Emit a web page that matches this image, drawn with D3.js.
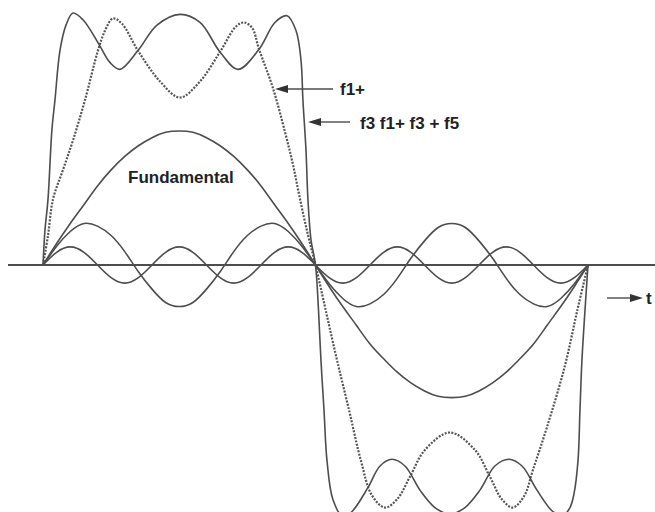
<!DOCTYPE html>
<html>
<head>
<meta charset="utf-8">
<script src="https://cdn.jsdelivr.net/npm/d3@7"></script>
<style>
  html, body { margin: 0; padding: 0; background: #fff; }
  svg { display: block; }
  text { font-family: "Liberation Sans", Arial, sans-serif; font-weight: bold; fill: #222; }
</style>
</head>
<body>
<svg id="chart" width="655" height="512"></svg>
<script>
// Phase angle (degrees) of the samples used for the single harmonics
const harmonicAngles = [0,9,18,27,36,45,54,63,72,81,90,99,108,117,126,135,144,153,162,171,180,
  189,198,207,216,225,234,243,252,261,270,279,288,297,306,315,324,333,342,351,360];

// Fundamental (f1), third harmonic (f3), fifth harmonic (f5), relative to f1 peak
const fundamental = [0,0.16,0.31,0.45,0.59,0.71,0.81,0.89,0.95,0.99,1.0,0.99,0.95,0.89,0.81,0.71,0.59,0.45,0.31,0.16,0,
  -0.16,-0.31,-0.45,-0.59,-0.70,-0.80,-0.88,-0.94,-0.98,-0.99,-0.98,-0.94,-0.88,-0.80,-0.70,-0.59,-0.45,-0.31,-0.16,0];
const third = [0,0.14,0.25,0.31,0.29,0.22,0.10,-0.05,-0.18,-0.28,-0.31,-0.28,-0.18,-0.05,0.10,0.22,0.29,0.31,0.25,0.14,0,
  -0.14,-0.25,-0.31,-0.29,-0.22,-0.10,0.05,0.18,0.28,0.31,0.28,0.18,0.05,-0.10,-0.22,-0.29,-0.31,-0.25,-0.14,0];
const fifth = [0,0.095,0.135,0.095,0,-0.095,-0.135,-0.095,0,0.095,0.135,0.095,0,-0.095,-0.135,-0.095,0,0.095,0.135,0.095,0,
  -0.095,-0.135,-0.095,0,0.095,0.135,0.095,0,-0.095,-0.135,-0.095,0,0.095,0.135,0.095,0,-0.095,-0.135,-0.095,0];

// Partial sum f1 + f3 (dotted)
const sum13Angles = [0,3.3,6.6,13.2,19.8,27.7,36.3,41,46.2,52.2,62.7,77.3,90.5,103.7,116.9,127.5,132.8,138.1,142.7,151.9,159.9,165.1,169.8,175.1,180,
  187,194.2,202.1,210,217.3,225.9,233.8,242.4,252.3,268.8,285.3,295.2,303.2,310.4,318,323.6,332.9,344.8,352.7,360];
const sum13 = [0,0.22,0.49,0.71,0.93,1.23,1.60,1.75,1.84,1.80,1.60,1.37,1.25,1.37,1.59,1.78,1.81,1.77,1.61,1.32,0.99,0.75,0.49,0.22,0,
  -0.35,-0.71,-1.08,-1.46,-1.72,-1.81,-1.75,-1.58,-1.38,-1.25,-1.38,-1.58,-1.75,-1.81,-1.72,-1.53,-1.21,-0.75,-0.35,0];

// Partial sum f1 + f3 + f5 (solid)
const sum135Angles = [0,1.3,3.3,5.9,7.9,11.2,15.2,19.8,26.4,36.3,44.3,50.9,62.7,75.3,90.5,103.7,116.9,128.8,142.7,153.2,161.2,167.1,170.4,171.7,173.7,175,177,180,
  182,183.6,185.6,187.6,191.5,198.2,204.1,214.7,222.6,230.5,239.1,249,258.9,268.8,278.7,288.6,298.5,307.8,316.4,326.3,336.8,343.5,348.1,350.7,353.4,354.7,356,358,360];
const sum135 = [0,0.26,0.49,1.01,1.23,1.60,1.79,1.88,1.83,1.66,1.51,1.46,1.60,1.79,1.87,1.81,1.59,1.46,1.61,1.81,1.86,1.75,1.53,1.23,0.86,0.49,0.19,0,
  -0.34,-0.71,-1.08,-1.46,-1.75,-1.88,-1.84,-1.66,-1.50,-1.45,-1.50,-1.68,-1.81,-1.86,-1.81,-1.68,-1.50,-1.45,-1.50,-1.68,-1.84,-1.87,-1.81,-1.71,-1.46,-1.08,-0.71,-0.34,0];

// Annotation texts
const labelFundamental = "Fundamental";
const labelSum13 = "f1+";
const labelSum135 = "f3 f1+ f3 + f5";
const labelTime = "t";

const svg = d3.select("#chart");
const x = d3.scaleLinear().domain([0, 360]).range([43, 588]);
const y = d3.scaleLinear().domain([-1, 1]).range([399, 131]);

const ink = "#4d4d4d";

// time axis
svg.append("line")
  .attr("x1", 8).attr("x2", 655)
  .attr("y1", y(0)).attr("y2", y(0))
  .attr("stroke", ink).attr("stroke-width", 1.8);

const smooth = d3.line().x(d => x(d[0])).y(d => y(d[1])).curve(d3.curveNatural);
const sharp = d3.line().x(d => x(d[0])).y(d => y(d[1])).curve(d3.curveCatmullRom.alpha(0.5));

const zip = (a, b) => a.map((v, i) => [v, b[i]]);

[fundamental, third, fifth].forEach(series => {
  svg.append("path")
    .attr("d", smooth(zip(harmonicAngles, series)))
    .attr("fill", "none").attr("stroke", ink).attr("stroke-width", 1.6);
});

svg.append("path")
  .attr("d", sharp(zip(sum13Angles, sum13)))
  .attr("fill", "none").attr("stroke", "#555").attr("stroke-width", 2.2)
  .attr("stroke-dasharray", "2 1.4");

svg.append("path")
  .attr("d", sharp(zip(sum135Angles, sum135)))
  .attr("fill", "none").attr("stroke", ink).attr("stroke-width", 1.6);

// arrow helper: shaft from (x1,y) to tip (x2,y), filled head
function arrow(x1, x2, yy, headLen, headHalf) {
  const dir = Math.sign(x2 - x1);
  svg.append("line")
    .attr("x1", x1).attr("x2", x2 - dir * headLen * 0.8)
    .attr("y1", yy).attr("y2", yy)
    .attr("stroke", ink).attr("stroke-width", 1.4);
  svg.append("path")
    .attr("d", `M${x2},${yy} L${x2 - dir * headLen},${yy - headHalf} L${x2 - dir * headLen},${yy + headHalf} Z`)
    .attr("fill", "#333");
}

arrow(333, 275, 89, 13, 4);
arrow(350, 308, 122, 13, 4);
arrow(607, 643, 298, 13, 4);

svg.append("text").attr("x", 128).attr("y", 183).attr("font-size", 17).text(labelFundamental);
svg.append("text").attr("x", 340).attr("y", 95).attr("font-size", 17).text(labelSum13);
svg.append("text").attr("x", 360).attr("y", 129).attr("font-size", 17).text(labelSum135);
svg.append("text").attr("x", 646).attr("y", 304).attr("font-size", 17).text(labelTime);
</script>
</body>
</html>
